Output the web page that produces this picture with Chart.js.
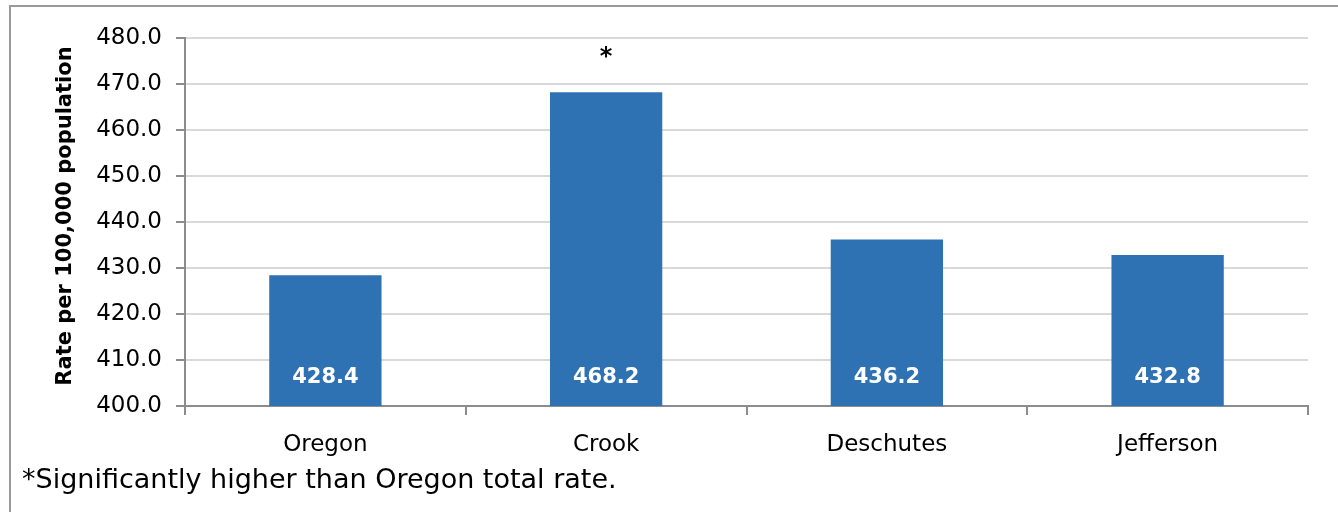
<!DOCTYPE html>
<html>
<head>
<meta charset="utf-8">
<script src="https://cdn.jsdelivr.net/npm/chart.js@4.4.1/dist/chart.umd.min.js"></script>
<style>
  body { margin: 0; background: #fff; }
  #wrap { width: 1338px; height: 512px; }
</style>
</head>
<body>
<div id="wrap"><canvas id="rateChart" width="1338" height="512"></canvas></div>
<script>
// values
const counties = ['Oregon', 'Crook', 'Deschutes', 'Jefferson'];
const rates = [428.4, 468.2, 436.2, 432.8];
const significant = [false, true, false, false];
const yTicks = [400, 410, 420, 430, 440, 450, 460, 470, 480];

const FONT = '"DejaVu Sans", "Open Sans", sans-serif';
const axisGray = '#8c8c8c';

// frame, axis title, value labels, star and footnote
const extras = {
    id: 'extras',
    afterDraw(chart) {
        const ctx = chart.ctx;
        const yScale = chart.scales.y;
        const meta = chart.getDatasetMeta(0);
        ctx.save();

        ctx.strokeStyle = '#9a9a9a';
        ctx.lineWidth = 2;
        ctx.beginPath();
        ctx.moveTo(10, 512);
        ctx.lineTo(10, 6);
        ctx.lineTo(1338, 6);
        ctx.stroke();

        ctx.fillStyle = '#000';
        ctx.font = 'bold 21px ' + FONT;
        ctx.textAlign = 'center';
        ctx.textBaseline = 'middle';
        ctx.translate(66, 216);
        ctx.rotate(-Math.PI / 2);
        ctx.fillText('Rate per 100,000 population', 0, 0);
        ctx.setTransform(1, 0, 0, 1, 0, 0);

        const baseY = yScale.getPixelForValue(yTicks[0]);
        meta.data.forEach((bar, i) => {
            ctx.fillStyle = '#fff';
            ctx.font = 'bold 21px ' + FONT;
            ctx.fillText(rates[i].toFixed(1), bar.x, baseY - 28);
            if (significant[i]) {
                ctx.fillStyle = '#000';
                ctx.font = 'bold 24px ' + FONT;
                ctx.fillText('*', bar.x, 58);
            }
        });

        ctx.fillStyle = '#000';
        ctx.textAlign = 'left';
        ctx.font = '27px ' + FONT;
        ctx.fillText('*Significantly higher than Oregon total rate.', 22, 481);
        ctx.restore();
    }
};

new Chart(document.getElementById('rateChart'), {
    type: 'bar',
    data: {
        labels: counties,
        datasets: [{
            data: rates,
            backgroundColor: '#2f72b4',
            categoryPercentage: 1,
            barPercentage: 0.4
        }]
    },
    options: {
        responsive: false,
        animation: false,
        layout: { padding: { top: 38, right: 30, left: 0, bottom: 0 } },
        plugins: { legend: { display: false }, tooltip: { enabled: false } },
        scales: {
            x: {
                afterFit(scale) { scale.height = 106; },
                grid: { drawOnChartArea: false, tickLength: 9, tickColor: axisGray, lineWidth: 2 },
                border: { color: axisGray, width: 2 },
                ticks: { color: '#000', padding: 16, font: { family: FONT, size: 23 } }
            },
            y: {
                min: 400,
                max: 480,
                afterFit(scale) { scale.width = 185; },
                afterBuildTicks(scale) { scale.ticks = yTicks.map(v => ({ value: v })); },
                grid: { color: '#d9d9d9', lineWidth: 2, tickLength: 9, tickColor: axisGray },
                border: { color: axisGray, width: 2 },
                ticks: {
                    color: '#000',
                    padding: 14,
                    font: { family: FONT, size: 23 },
                    callback: v => v.toFixed(1)
                }
            }
        }
    },
    plugins: [extras]
});
</script>
</body>
</html>
